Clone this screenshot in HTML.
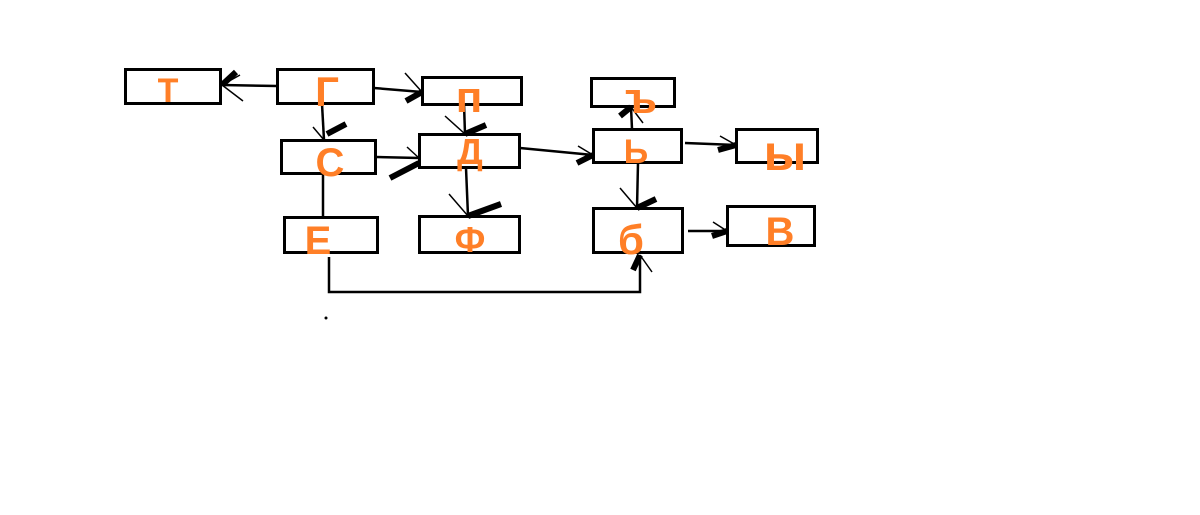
<!DOCTYPE html>
<html><head><meta charset="utf-8"><style>
html,body{margin:0;padding:0;background:#fff;width:1200px;height:515px;overflow:hidden}
svg{display:block}
text{font-family:"Liberation Sans","DejaVu Sans",sans-serif;font-weight:bold;fill:#ff7f27;text-anchor:middle}
</style></head><body>
<svg width="1200" height="515" viewBox="0 0 1200 515">
<g fill="none" stroke="#000" stroke-width="3">
<rect x="125.5" y="69.5" width="95" height="34"/>
<rect x="277.5" y="69.5" width="96" height="34"/>
<rect x="422.5" y="77.5" width="99" height="27"/>
<rect x="281.5" y="140.5" width="94" height="33"/>
<rect x="419.5" y="134.5" width="100" height="33"/>
<rect x="284.5" y="217.5" width="93" height="35"/>
<rect x="419.5" y="216.5" width="100" height="36"/>
<rect x="591.5" y="78.5" width="83" height="28"/>
<rect x="593.5" y="129.5" width="88" height="33"/>
<rect x="736.5" y="129.5" width="81" height="33"/>
<rect x="593.5" y="208.5" width="89" height="44"/>
<rect x="727.5" y="206.5" width="87" height="39"/>
</g>
<g fill="none" stroke="#000" stroke-width="2.5">
<path d="M277 86 L222 85"/>
<path d="M374 88 L422 92"/>
<path d="M322 104 L324 140"/>
<path d="M376 157 L419 158"/>
<path d="M464 104 L465 134"/>
<path d="M466 168 L468 216"/>
<path d="M520 148 L593 155"/>
<path d="M632 129 L631 107"/>
<path d="M685 143 L736 145"/>
<path d="M638 163 L637 208"/>
<path d="M688 231 L727 231"/>
<path d="M323 174 L323 217"/>
<path d="M329 257 L329 292 L640 292 L640 255"/>
</g>
<g fill="none" stroke="#000" stroke-width="1.5">
<path d="M240 75 L222 85 L243 101"/>
<path d="M405 73 L422 92"/>
<path d="M313 127 L324 140"/>
<path d="M407 147 L419 158"/>
<path d="M445 116 L465 134"/>
<path d="M449 194 L468 216"/>
<path d="M578 146 L593 155"/>
<path d="M643 123 L631 107"/>
<path d="M720 136 L736 145"/>
<path d="M620 188 L637 208"/>
<path d="M713 222 L727 231"/>
<path d="M652 272 L640 255"/>
</g>
<g fill="none" stroke="#000" stroke-width="6">
<path d="M222 85 L236 72"/>
<path d="M406 101 L422 92"/>
<path d="M327 134 L346 124"/>
<path d="M390 178 L419 163"/>
<path d="M465 134 L486 125"/>
<path d="M468 216 L501 204"/>
<path d="M577 163 L593 155"/>
<path d="M631 107 L620 116"/>
<path d="M718 150 L736 145"/>
<path d="M637 208 L656 199"/>
<path d="M712 236 L727 231"/>
<path d="M633 270 L640 255"/>
</g>
<circle cx="326" cy="318" r="1.5" fill="#000"/>
<text x="168" y="102" font-size="34">Т</text>
<text x="327" y="106" font-size="42">Г</text>
<text x="469" y="112" font-size="44">п</text>
<text x="330" y="176" font-size="40">С</text>
<text x="470" y="164" font-size="36">Д</text>
<text x="318" y="254" font-size="40">Е</text>
<text x="470" y="252" font-size="36">Ф</text>
<text x="641" y="113" font-size="44">ъ</text>
<text x="636" y="163" font-size="34">Ь</text>
<text x="785" y="170" font-size="50">ы</text>
<text x="631" y="254" font-size="42">б</text>
<text x="780" y="245" font-size="40">В</text>
</svg>
</body></html>
